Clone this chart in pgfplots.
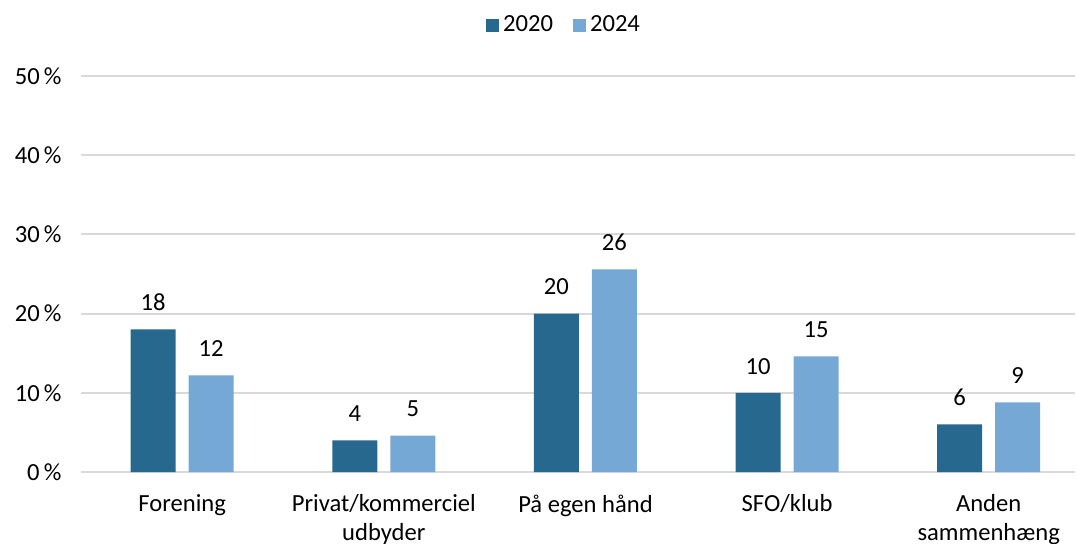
\documentclass[border=0pt]{standalone}
\usepackage{pgfplots}
\pgfplotsset{compat=1.18}
\usepackage{fontspec}
\setmainfont{Carlito}
\definecolor{dark}{RGB}{39,104,143}
\definecolor{light}{RGB}{118,168,214}
\definecolor{gridc}{RGB}{217,217,217}
\begin{document}
\begin{tikzpicture}
\fontsize{12.3}{14.5}\selectfont
\begin{axis}[
  at={(0,0)}, anchor=south west,
  scale only axis,
  width=497pt, height=198pt,
  xmin=-0.502, xmax=4.428,
  ymin=0, ymax=50,
  ybar=6.5pt, bar width=22.5pt,
  /pgf/number format/assume math mode=true,
  font=\fontsize{12.3}{14.5}\selectfont,
  axis line style={draw=none},
  major tick length=0pt,
  ytick={0,10,20,30,40,50},
  yticklabels={0\,\%,10\,\%,20\,\%,30\,\%,40\,\%,50\,\%},
  yticklabel style={xshift=-5.5pt},
  xtick={0,1,2,3,4},
  xticklabels={Forening,Privat/kommerciel\\udbyder,På egen hånd,SFO/klub,Anden\\sammenhæng},
  xticklabel style={align=center, yshift=-7pt},
  ymajorgrids,
  grid style={gridc, line width=1pt},
  legend style={at={(0.487,1)}, anchor=center, yshift=25.5pt, draw=none, fill=none,
    legend columns=2, /tikz/every even column/.append style={column sep=8pt},
    font=\fontsize{12.3}{14.5}\selectfont},
  legend image code/.code={\fill[#1] (0pt,-3.25pt) rectangle (6.5pt,3.25pt);},
  nodes near coords={\pgfmathprintnumber[fixed,precision=0]{\pgfplotspointmeta}},
  every node near coord/.append style={yshift=5pt, text=black, font=\fontsize{12.3}{14.5}\selectfont},
]
\addplot[fill=dark, draw=none] coordinates {(0,18.0) (1,4.0) (2,20.0) (3,10.0) (4,6.0)};
\addplot[fill=light, draw=none] coordinates {(0,12.2) (1,4.6) (2,25.6) (3,14.6) (4,8.8)};
\legend{2020,2024}
\end{axis}
\pgfresetboundingbox
\useasboundingbox (-40.5pt,-35.5pt) rectangle (498.5pt,236pt);
\end{tikzpicture}
\end{document}
